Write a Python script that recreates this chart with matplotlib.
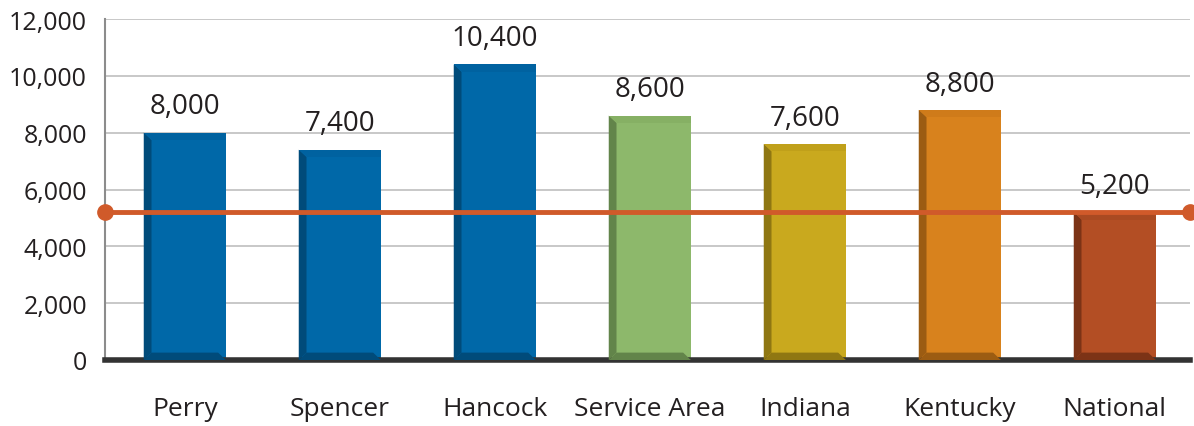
import numpy as np
import matplotlib.pyplot as plt
from matplotlib.patches import Polygon
from matplotlib.ticker import FuncFormatter

plt.rcParams['font.family'] = ['Open Sans', 'DejaVu Sans']

categories = ['Perry', 'Spencer', 'Hancock', 'Service Area', 'Indiana', 'Kentucky', 'National']
values = [8000, 7400, 10400, 8600, 7600, 8800, 5200]
bar_colors = ['#0068a8', '#0068a8', '#0068a8', '#8db86b', '#c9a91e', '#d8821d', '#b34e24']
dark_colors = ['#004b7a', '#004b7a', '#004b7a', '#62844a', '#8f7712', '#9c5c12', '#7c3316']
top_colors = ['#0062a0', '#0062a0', '#0062a0', '#86b064', '#c0a01a', '#cf7b1a', '#a94a22']
national_line = 5200

fig = plt.figure(figsize=(11.94, 4.27), dpi=100)
ax = fig.add_axes([105 / 1194, 66 / 427, 1085 / 1194, 341 / 427])

x = np.arange(len(categories))
w = 0.53
ax.bar(x, values, width=w, color=bar_colors, zorder=2)

# simple bevel on each bar
dx, dy = 0.05, 260
for xi, v, dc, tc in zip(x, values, dark_colors, top_colors):
    x0, x1 = xi - w / 2, xi + w / 2
    ax.add_patch(Polygon([(x0, 0), (x0, v), (x0 + dx, v - dy), (x0 + dx, dy)],
                         closed=True, color=dc, lw=0, zorder=3))
    ax.add_patch(Polygon([(x0, v), (x1, v), (x1, v - dy), (x0 + dx, v - dy)],
                         closed=True, color=tc, lw=0, zorder=3))
    ax.add_patch(Polygon([(x0, 0), (x1, 0), (x1 - dx, dy), (x0 + dx, dy)],
                         closed=True, color=dc, lw=0, zorder=3))
    ax.text(xi, v + 430, f'{v:,}', ha='center', va='bottom', fontsize=20, color='#231f20')

xlo, xhi = -0.515, 6.485
ax.plot([xlo, xhi], [national_line, national_line], color='#d05a2a', lw=3.5,
        marker='o', markersize=11, zorder=4, clip_on=False)

ax.set_xlim(xlo, xhi)
ax.set_ylim(0, 12000)
ax.set_yticks(np.arange(0, 12001, 2000))
ax.yaxis.set_major_formatter(FuncFormatter(lambda v, p: f'{int(v):,}'))
ax.set_xticks(x)
ax.set_xticklabels(categories)
ax.tick_params(axis='x', length=0, pad=26, labelsize=19, labelcolor='#231f20')
ax.tick_params(axis='y', length=0, pad=13, labelsize=18, labelcolor='#231f20')
ax.yaxis.grid(True, color='#bfbfbf', lw=1.2, zorder=0)
ax.set_axisbelow(True)

for s in ['top', 'right']:
    ax.spines[s].set_visible(False)
ax.spines['left'].set_color('#8c8c8c')
ax.spines['left'].set_linewidth(1.5)
ax.spines['bottom'].set_color('#333333')
ax.spines['bottom'].set_linewidth(4)

fig.savefig('out.png', dpi=100)
